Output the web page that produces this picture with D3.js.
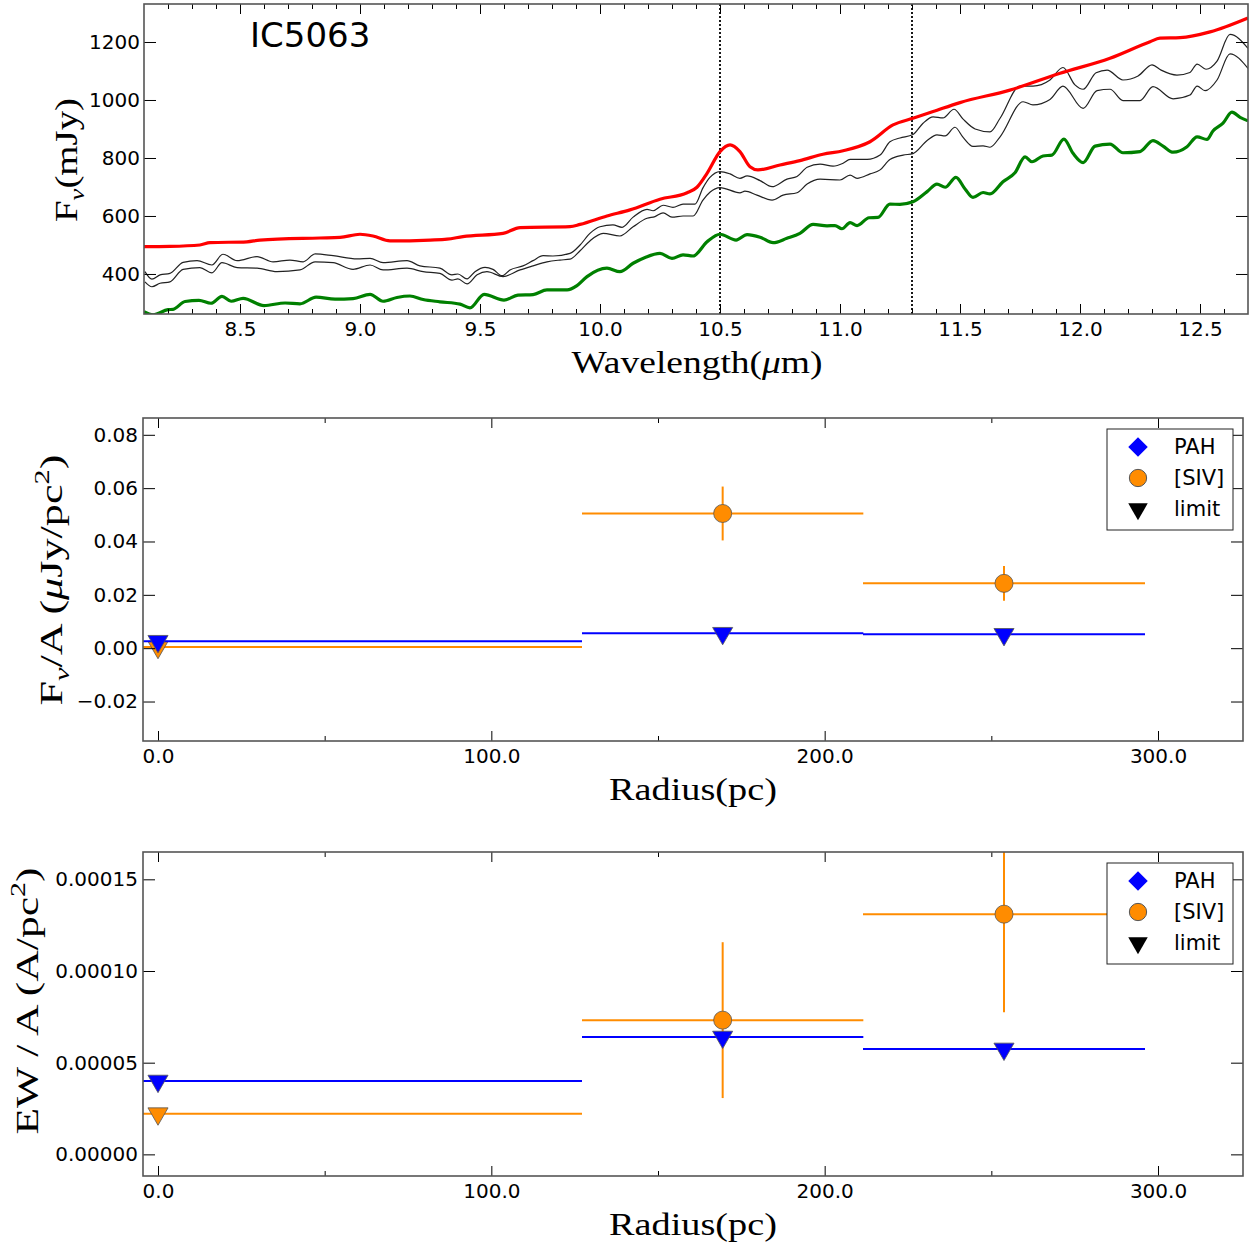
<!DOCTYPE html>
<html>
<head>
<meta charset="utf-8">
<script src="https://cdn.jsdelivr.net/npm/d3@7"></script>
<style>
  body { margin: 0; background: #fff; }
  .tick text { font-family: "DejaVu Sans", sans-serif; font-size: 20px; fill: #000; }
  .tick line { stroke: #000; stroke-width: 1; }
  .lbl { font-family: "Liberation Serif", serif; font-size: 32px; fill: #000; }
  .leg { font-family: "DejaVu Sans", sans-serif; font-size: 21px; fill: #000; }
</style>
</head>
<body>
<svg id="chart" width="1249" height="1251"></svg>
<script>
// spectra (wavelength in micron, flux in mJy)
const redWave = [8.100, 8.208, 8.333, 8.375, 8.529, 8.583, 8.833, 8.917, 9.000, 9.054, 9.125, 9.292, 9.363, 9.429, 9.596, 9.667, 9.875, 9.917, 10.029, 10.125, 10.250, 10.363, 10.404, 10.446, 10.500, 10.542, 10.583, 10.625, 10.658, 10.750, 10.833, 10.929, 11.013, 11.125, 11.221, 11.304, 11.388, 11.500, 11.708, 11.917, 12.125, 12.292, 12.333, 12.417, 12.542, 12.700];
const redFlux = [494, 495, 500, 508, 511, 517, 524, 526, 537, 531, 514, 517, 520, 529, 540, 560, 563, 571, 600, 621, 658, 680, 699, 747, 822, 845, 822, 770, 759, 776, 791, 813, 825, 856, 914, 937, 960, 991, 1034, 1092, 1144, 1201, 1213, 1215, 1235, 1283];

const greenWave = [8.100, 8.138, 8.200, 8.221, 8.271, 8.329, 8.379, 8.425, 8.463, 8.513, 8.600, 8.688, 8.750, 8.817, 8.896, 8.971, 9.042, 9.096, 9.154, 9.208, 9.263, 9.333, 9.417, 9.458, 9.517, 9.600, 9.658, 9.721, 9.779, 9.863, 9.904, 9.946, 10.029, 10.083, 10.138, 10.188, 10.250, 10.300, 10.346, 10.388, 10.446, 10.500, 10.567, 10.613, 10.667, 10.721, 10.779, 10.833, 10.888, 10.946, 10.979, 11.008, 11.042, 11.071, 11.121, 11.158, 11.208, 11.250, 11.304, 11.363, 11.404, 11.438, 11.483, 11.521, 11.554, 11.596, 11.625, 11.679, 11.729, 11.771, 11.800, 11.846, 11.883, 11.933, 11.971, 12.013, 12.063, 12.125, 12.179, 12.250, 12.304, 12.346, 12.388, 12.446, 12.488, 12.529, 12.554, 12.596, 12.633, 12.667, 12.700];
const greenFlux = [270, 259, 277, 278, 305, 309, 299, 323, 306, 316, 291, 300, 297, 320, 313, 315, 330, 306, 319, 324, 312, 304, 296, 283, 330, 310, 327, 329, 345, 345, 360, 391, 420, 408, 437, 457, 471, 454, 466, 462, 511, 537, 517, 536, 527, 508, 523, 540, 571, 566, 567, 556, 577, 567, 594, 595, 641, 640, 649, 684, 710, 699, 733, 693, 664, 681, 676, 718, 749, 804, 787, 807, 810, 865, 816, 784, 841, 848, 818, 822, 860, 841, 820, 839, 873, 864, 893, 920, 958, 940, 928];

const upperWave = [8.104, 8.133, 8.167, 8.208, 8.263, 8.321, 8.383, 8.429, 8.488, 8.571, 8.638, 8.708, 8.763, 8.813, 8.888, 8.988, 9.042, 9.096, 9.196, 9.250, 9.333, 9.383, 9.408, 9.446, 9.479, 9.521, 9.554, 9.592, 9.625, 9.679, 9.721, 9.763, 9.804, 9.875, 9.917, 9.958, 10.000, 10.054, 10.092, 10.138, 10.196, 10.221, 10.263, 10.304, 10.346, 10.396, 10.429, 10.458, 10.500, 10.542, 10.583, 10.613, 10.667, 10.717, 10.779, 10.821, 10.863, 10.917, 10.971, 11.013, 11.042, 11.113, 11.167, 11.208, 11.250, 11.304, 11.346, 11.388, 11.429, 11.475, 11.513, 11.563, 11.625, 11.667, 11.750, 11.804, 11.875, 11.929, 11.979, 12.013, 12.067, 12.113, 12.179, 12.242, 12.300, 12.338, 12.404, 12.458, 12.488, 12.525, 12.571, 12.625, 12.700];
const upperFlux = [408, 382, 397, 402, 440, 446, 431, 468, 446, 460, 442, 448, 442, 469, 463, 452, 454, 439, 446, 428, 420, 397, 400, 383, 408, 423, 416, 394, 414, 428, 446, 463, 462, 471, 500, 540, 563, 569, 561, 596, 623, 618, 637, 630, 641, 641, 697, 733, 753, 745, 730, 738, 722, 701, 727, 736, 768, 779, 772, 782, 795, 795, 810, 856, 869, 881, 920, 942, 938, 968, 934, 900, 890, 937, 1048, 1048, 1069, 1112, 1052, 1037, 1094, 1103, 1069, 1083, 1121, 1103, 1086, 1095, 1124, 1106, 1134, 1226, 1178];

const lowerWave = [8.104, 8.133, 8.167, 8.208, 8.263, 8.333, 8.383, 8.425, 8.488, 8.571, 8.654, 8.750, 8.813, 8.888, 8.971, 9.042, 9.096, 9.196, 9.263, 9.333, 9.383, 9.408, 9.446, 9.488, 9.529, 9.596, 9.667, 9.721, 9.779, 9.833, 9.875, 9.917, 9.958, 10.013, 10.083, 10.138, 10.196, 10.229, 10.263, 10.300, 10.346, 10.388, 10.429, 10.458, 10.500, 10.583, 10.604, 10.654, 10.717, 10.763, 10.821, 10.863, 10.917, 11.000, 11.042, 11.071, 11.125, 11.167, 11.208, 11.263, 11.304, 11.363, 11.404, 11.438, 11.479, 11.513, 11.554, 11.596, 11.625, 11.667, 11.763, 11.804, 11.875, 11.929, 12.013, 12.071, 12.125, 12.179, 12.250, 12.304, 12.388, 12.458, 12.488, 12.521, 12.571, 12.625, 12.700];
const lowerFlux = [373, 356, 368, 373, 416, 422, 404, 439, 422, 420, 408, 414, 442, 439, 416, 431, 414, 420, 408, 402, 379, 383, 366, 397, 408, 391, 414, 428, 442, 448, 451, 480, 514, 540, 531, 563, 592, 598, 611, 596, 600, 600, 655, 682, 698, 680, 686, 672, 655, 672, 680, 710, 727, 724, 741, 730, 745, 759, 795, 810, 815, 860, 880, 876, 906, 871, 840, 842, 837, 873, 994, 983, 1002, 1048, 971, 1032, 1037, 998, 998, 1046, 1004, 1017, 1048, 1032, 1069, 1159, 1109];

const featureLines = [10.5, 11.3];

// radial bins (pc)
const binCenter = [0, 169.4, 253.8];
const binHalf = [127.2, 42.2, 42.3];

// flux per area
const pahFlux = [0.0026, 0.0056, 0.0052];
const sivFlux = [0.0004, 0.0505, 0.0243];
const sivFluxErr = [0, 0.0101, 0.0065];
const sivFluxLimit = [true, false, false];

// equivalent width per area
const pahEW = [0.0000400, 0.0000640, 0.0000575];
const sivEW = [0.0000222, 0.0000732, 0.0001310];
const sivEWErr = [0, 0.0000425, 0.0000535];
const sivEWLimit = [true, false, false];

const legendNames = ['PAH', '[SIV]', 'limit'];

const svg = d3.select('#chart');

function axes(g, x, y, box, o) {
    const put = (axis, ty, tx) => {
        const a = g.append('g').attr('transform', `translate(${tx || 0},${ty || 0})`).call(axis);
        a.select('.domain').remove();
        return a;
    };
    put(d3.axisBottom(x).tickValues(o.xMajor).tickSize(-10).tickPadding(o.xPad).tickFormat(o.xFmt), box.bottom);
    put(d3.axisTop(x).tickValues(o.xMajor).tickSize(-10).tickFormat(''), box.top);
    put(d3.axisBottom(x).tickValues(o.xMinor).tickSize(-5).tickFormat(''), box.bottom);
    put(d3.axisTop(x).tickValues(o.xMinor).tickSize(-5).tickFormat(''), box.top);
    put(d3.axisLeft(y).tickValues(o.yMajor).tickSize(-12).tickPadding(o.yPad).tickFormat(o.yFmt), 0, box.left);
    put(d3.axisRight(y).tickValues(o.yMajor).tickSize(-12).tickFormat(''), 0, box.right);
}

function frame(g, box) {
    g.append('rect')
        .attr('x', box.left).attr('y', box.top)
        .attr('width', box.right - box.left).attr('height', box.bottom - box.top)
        .attr('fill', 'none').attr('stroke', '#555').attr('stroke-width', 1.6);
}

function clip(id, box) {
    svg.append('clipPath').attr('id', id).append('rect')
        .attr('x', box.left).attr('y', box.top)
        .attr('width', box.right - box.left).attr('height', box.bottom - box.top);
}

// ---------- panel 1: spectra ----------
const b1 = { left: 144, right: 1248, top: 4, bottom: 314 };
const x1 = d3.scaleLinear().domain([8.1, 12.7]).range([b1.left, b1.right]);
const y1 = d3.scaleLinear().domain([262, 1331]).range([b1.bottom, b1.top]);
clip('c1', b1);
const g1 = svg.append('g');
const plot1 = g1.append('g').attr('clip-path', 'url(#c1)');

const line1 = d3.line().x(d => x1(d[0])).y(d => y1(d[1])).curve(d3.curveMonotoneX);

plot1.selectAll('line.feat').data(featureLines).enter().append('line')
    .attr('class', 'feat')
    .attr('x1', d => x1(d)).attr('x2', d => x1(d))
    .attr('y1', b1.top).attr('y2', b1.bottom)
    .attr('stroke', '#000').attr('stroke-width', 1.8).attr('stroke-dasharray', '2,2');

const spectra = [
    { w: upperWave, f: upperFlux, color: '#222', width: 1.2 },
    { w: lowerWave, f: lowerFlux, color: '#222', width: 1.2 },
    { w: redWave, f: redFlux, color: '#ff0000', width: 3.2 },
    { w: greenWave, f: greenFlux, color: '#008000', width: 3.2 }
];
plot1.selectAll('path.spec').data(spectra).enter().append('path')
    .attr('class', 'spec')
    .attr('d', s => line1(d3.zip(s.w, s.f)))
    .attr('fill', 'none')
    .attr('stroke', s => s.color)
    .attr('stroke-width', s => s.width)
    .attr('stroke-linejoin', 'round');

axes(g1, x1, y1, b1, {
    xMajor: d3.range(8.5, 12.51, 0.5),
    xMinor: d3.range(82, 127).map(v => v / 10).filter(v => Math.round(v * 10) % 5 !== 0),
    xFmt: d3.format('.1f'), xPad: 8,
    yMajor: [400, 600, 800, 1000, 1200],
    yFmt: d3.format('d'), yPad: 4
});
frame(g1, b1);

g1.append('text').attr('x', 250).attr('y', 47)
    .style('font-family', '"DejaVu Sans", sans-serif').style('font-size', '34px')
    .text('IC5063');

const xl1 = g1.append('text').attr('class', 'lbl')
    .attr('x', 697).attr('y', 373).attr('text-anchor', 'middle')
    .attr('textLength', 251).attr('lengthAdjust', 'spacingAndGlyphs');
xl1.append('tspan').text('Wavelength(');
xl1.append('tspan').style('font-style', 'italic').text('μ');
xl1.append('tspan').text('m)');

const yl1 = g1.append('text').attr('class', 'lbl')
    .attr('transform', 'translate(77,160) rotate(-90)').attr('text-anchor', 'middle')
    .attr('textLength', 124).attr('lengthAdjust', 'spacingAndGlyphs');
yl1.append('tspan').text('F');
yl1.append('tspan').attr('dy', 7).style('font-size', '22px').style('font-style', 'italic').text('ν');
yl1.append('tspan').attr('dy', -7).text('(mJy)');

// ---------- radial panels ----------
function radialPanel(box, yDomain, yTicks, yFmt, pah, siv, sivErr, sivLimit, clipId, yLabel) {
    const x = d3.scaleLinear().domain([-4.5, 325.5]).range([box.left, box.right]);
    const y = d3.scaleLinear().domain(yDomain).range([box.bottom, box.top]);
    clip(clipId, box);
    const g = svg.append('g');
    const plot = g.append('g').attr('clip-path', `url(#${clipId})`);

    const series = [
        { vals: siv, err: sivErr, limit: sivLimit, color: '#ff8c00' },
        { vals: pah, err: [0, 0, 0], limit: [true, true, true], color: '#0000ff' }
    ];
    const tri = d3.symbol(d3.symbolTriangle, 175);
    const circ = d3.symbol(d3.symbolCircle, 255);

    series.forEach(s => {
        const pts = s.vals.map((v, i) => ({ r: binCenter[i], h: binHalf[i], v, e: s.err[i], lim: s.limit[i] }));
        plot.selectAll(null).data(pts).enter().append('line')
            .attr('x1', d => x(d.r - d.h)).attr('x2', d => x(d.r + d.h))
            .attr('y1', d => y(d.v)).attr('y2', d => y(d.v))
            .attr('stroke', s.color).attr('stroke-width', 2);
        plot.selectAll(null).data(pts.filter(d => d.e > 0)).enter().append('line')
            .attr('x1', d => x(d.r)).attr('x2', d => x(d.r))
            .attr('y1', d => y(d.v - d.e)).attr('y2', d => y(d.v + d.e))
            .attr('stroke', s.color).attr('stroke-width', 2);
        plot.selectAll(null).data(pts).enter().append('path')
            .attr('d', d => d.lim ? tri() : circ())
            .attr('transform', d => `translate(${x(d.r)},${y(d.v)})` + (d.lim ? ' rotate(180)' : ''))
            .attr('fill', s.color).attr('stroke', '#555').attr('stroke-width', 0.8);
    });

    axes(g, x, y, box, {
        xMajor: [0, 100, 200, 300],
        xMinor: [50, 150, 250],
        xFmt: d3.format('.1f'), xPad: 8,
        yMajor: yTicks, yFmt, yPad: 5
    });
    frame(g, box);

    // legend
    const lg = g.append('g').attr('transform', `translate(1107,${box.top + 11})`);
    lg.append('rect').attr('width', 126).attr('height', 101)
        .attr('fill', '#fff').attr('stroke', '#222').attr('stroke-width', 1);
    const shapes = [
        { p: d3.symbol(d3.symbolSquare, 190)(), rot: 45, fill: '#0000ff' },
        { p: d3.symbol(d3.symbolCircle, 235)(), rot: 0, fill: '#ff8c00' },
        { p: d3.symbol(d3.symbolTriangle, 165)(), rot: 180, fill: '#000' }
    ];
    legendNames.forEach((name, i) => {
        lg.append('path').attr('d', shapes[i].p)
            .attr('transform', `translate(31,${18 + i * 31}) rotate(${shapes[i].rot})`)
            .attr('fill', shapes[i].fill).attr('stroke', i === 1 ? '#555' : 'none');
        lg.append('text').attr('class', 'leg').attr('x', 67).attr('y', 25 + i * 31).text(name);
    });

    g.append('text').attr('class', 'lbl')
        .attr('x', 693).attr('y', box.bottom + 59).attr('text-anchor', 'middle')
        .attr('textLength', 168).attr('lengthAdjust', 'spacingAndGlyphs')
        .text('Radius(pc)');

    yLabel(g);
}

const b2 = { left: 143, right: 1243, top: 418, bottom: 741 };
radialPanel(b2, [-0.0348, 0.0863], [-0.02, 0, 0.02, 0.04, 0.06, 0.08], d3.format('.2f'),
    pahFlux, sivFlux, sivFluxErr, sivFluxLimit, 'c2', g => {
        const t = g.append('text').attr('class', 'lbl')
            .attr('transform', 'translate(62,580) rotate(-90)').attr('text-anchor', 'middle')
            .attr('textLength', 251).attr('lengthAdjust', 'spacingAndGlyphs');
        t.append('tspan').text('F');
        t.append('tspan').attr('dy', 7).style('font-size', '22px').style('font-style', 'italic').text('ν');
        t.append('tspan').attr('dy', -7).text('/A (');
        t.append('tspan').style('font-style', 'italic').text('μ');
        t.append('tspan').text('Jy/pc');
        t.append('tspan').attr('dy', -13).style('font-size', '22px').text('2');
        t.append('tspan').attr('dy', 13).text(')');
    });

const b3 = { left: 143, right: 1243, top: 852, bottom: 1176 };
radialPanel(b3, [-0.0000118, 0.0001649], [0, 0.00005, 0.0001, 0.00015], d3.format('.5f'),
    pahEW, sivEW, sivEWErr, sivEWLimit, 'c3', g => {
        const t = g.append('text').attr('class', 'lbl')
            .attr('transform', 'translate(38,1001) rotate(-90)').attr('text-anchor', 'middle')
            .attr('textLength', 267).attr('lengthAdjust', 'spacingAndGlyphs');
        t.append('tspan').text('EW / A  (A/pc');
        t.append('tspan').attr('dy', -13).style('font-size', '22px').text('2');
        t.append('tspan').attr('dy', 13).text(')');
    });
</script>
</body>
</html>
